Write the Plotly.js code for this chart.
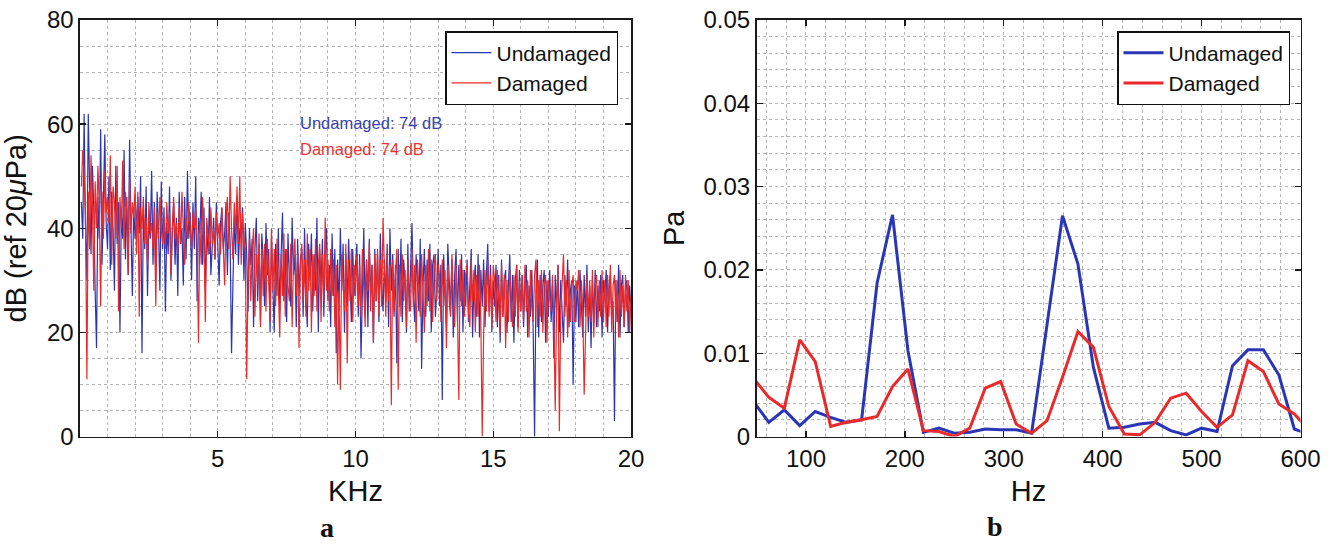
<!DOCTYPE html>
<html>
<head>
<meta charset="utf-8">
<script src="https://cdn.plot.ly/plotly-3.0.1.min.js"></script>
<style>html,body{margin:0;padding:0;background:#fff;}#chart{width:1338px;height:544px;}</style>
</head>
<body>
<div id="chart"></div>
<script>
// ---- Panel a: spectrum in dB (ref 20 uPa), frequency in kHz (bins start 0.05 kHz, step 0.05 kHz)
const spectrumStartKHz = 0.05;
const spectrumStepKHz = 0.05;
const undamagedDb = [
45,38,62,40,30,62,48,35,52,44,28,17,46,38,59,33,46,58,41,36,
50,32,47,40,28,52,37,45,20,43,38,55,34,46,31,57,40,27,44,38,
42,46,39,50,16,43,36,48,27,42,38,51,33,45,30,47,40,28,49,36,
44,24,41,35,48,30,39,45,33,42,27,47,37,40,29,46,34,51,38,43,
30,45,36,50,26,42,39,47,33,44,28,40,35,46,31,38,42,34,45,37,
29,41,44,36,39,45,31,43,37,16,27,42,35,46,33,40,38,44,30,41,
35,24,40,33,38,21,36,42,26,37,22,39,34,25,41,31,36,20,38,28,
20,37,27,40,24,35,43,26,36,22,39,30,25,42,31,35,21,38,27,34,
36,23,40,27,21,37,30,39,24,35,28,42,20,36,29,38,23,34,40,26,
33,21,39,27,36,16,34,24,40,28,37,20,35,25,38,30,22,36,27,33,
37,23,35,15,30,40,24,34,21,38,27,33,18,36,26,35,22,39,29,24,
34,26,37,21,40,28,35,23,33,14,36,25,38,22,34,29,20,37,24,35,
41,27,22,35,30,24,38,13,29,36,23,34,26,37,20,33,35,23,28,36,
25,33,7,35,27,21,37,29,24,34,19,31,36,22,33,26,35,20,32,25,
34,22,31,36,19,30,33,23,35,19,32,25,34,21,31,37,24,33,20,30,
25,33,21,31,18,34,23,30,32,20,29,35,22,31,18,30,33,21,32,24,
31,21,30,33,19,29,23,32,20,0,28,34,19,31,22,29,32,18,30,23,
32,22,29,15,31,24,33,20,30,23,18,31,25,34,21,28,30,10,29,22,
30,21,32,25,19,31,23,33,20,29,17,30,22,32,21,29,24,31,19,30,
27,32,20,29,31,23,26,3,30,22,33,19,29,31,21,28,30,20,29,24
];
const damagedDb = [
48,55,50,42,11,47,36,54,45,28,49,40,52,44,25,47,38,51,43,46,
41,54,33,48,45,38,52,24,46,40,53,36,47,43,31,50,39,45,42,48,
35,47,23,44,40,46,37,42,33,45,39,41,36,44,25,43,38,46,40,37,
42,36,45,39,43,31,40,46,38,41,35,44,37,47,40,33,42,38,45,39,
36,43,40,44,37,18,41,33,46,38,22,42,39,35,44,37,40,34,43,38,
41,35,44,38,29,42,46,36,50,40,34,45,39,48,37,50,33,43,38,36,
11,30,38,26,36,40,23,35,29,39,21,36,27,37,24,38,30,22,40,28,
36,25,38,29,19,35,27,39,23,36,29,26,37,21,34,38,27,35,17,33,
37,26,34,23,39,28,36,20,35,27,38,24,33,37,22,35,26,42,28,34,
24,36,27,34,21,33,10,28,9,35,29,24,37,14,34,26,36,22,33,27,
35,25,33,23,36,27,21,34,28,37,24,33,18,35,26,36,23,34,25,42,
32,23,35,26,33,6,34,24,31,36,9,33,23,35,26,32,21,34,27,24,
36,25,33,18,34,27,23,35,28,20,33,25,36,24,34,22,32,35,26,33,
31,22,34,25,32,17,33,26,23,35,27,21,33,24,7,34,25,32,23,31,
33,24,21,34,26,32,20,31,23,33,22,0,19,32,24,34,23,31,21,33,
30,22,32,25,20,33,23,31,17,30,22,32,25,21,31,23,33,20,30,24,
31,22,33,24,30,19,32,25,22,31,34,21,30,23,32,20,29,31,18,30,
27,24,31,22,5,26,33,1,24,31,35,23,30,19,32,22,29,31,22,30,
28,32,21,30,24,8,20,31,23,30,22,32,19,29,31,21,30,23,32,22,
30,21,31,23,33,20,29,31,22,30,19,32,23,29,21,31,24,30,20,27
];

// ---- Panel b: low-frequency amplitude in Pa (bins start 46.875 Hz, step 15.625 Hz)
const lowStartHz = 46.875;
const lowStepHz = 15.625;
const undamagedPa = [0.0042,0.0017,0.0032,0.0013,0.003,0.0023,0.0017,0.002,0.0184,0.0266,0.0103,0.0005,0.001,0.0004,0.0005,0.0009,0.0008,0.0008,0.0004,0.0135,0.0265,0.0207,0.0083,0.001,0.0011,0.0015,0.0017,0.0007,0.0002,0.001,0.0006,0.0085,0.0104,0.0104,0.0074,0.0009,0.0002];
const damagedPa = [0.007,0.0047,0.0034,0.0116,0.009,0.0012,0.0017,0.002,0.0024,0.006,0.0081,0.0007,0.0006,0.0,0.001,0.0058,0.0066,0.0015,0.0004,0.0019,0.0071,0.0126,0.0107,0.0036,0.0003,0.0002,0.0017,0.0046,0.0052,0.003,0.0011,0.0026,0.0091,0.0078,0.0039,0.0027,0.0007];

const seriesNames = ['Undamaged', 'Damaged'];
const overallLevels = ['Undamaged: 74 dB', 'Damaged: 74 dB'];
const xTicksA = [5, 10, 15, 20];

const BLUE = '#2b36b4';
const RED = '#ea2a2a';
const FONT = 'Liberation Sans, Arial, Helvetica, sans-serif';
const GRID = '#b4b4b4';

const W = 1338, H = 544;
const px = v => v / W;
const py = v => 1 - v / H;

const gridCommon = {
  showgrid: true, gridcolor: GRID, griddash: 'dot', gridwidth: 1,
  zeroline: false, showline: true, linecolor: '#1a1a1a', linewidth: 1.6,
  mirror: 'ticks', ticks: 'inside', ticklen: 6, tickwidth: 1.4, tickcolor: '#1a1a1a',
  tickfont: {family: FONT, size: 24, color: '#111'}
};
const minorGrid = d => ({dtick: d, tick0: 0, showgrid: true, gridcolor: GRID, griddash: 'dot', gridwidth: 1, ticks: ''});

const traces = [
  {type: 'scatter', mode: 'lines', name: seriesNames[0], x0: spectrumStartKHz, dx: spectrumStepKHz, y: undamagedDb,
   line: {color: BLUE, width: 1.2}, xaxis: 'x', yaxis: 'y', legend: 'legend'},
  {type: 'scatter', mode: 'lines', name: seriesNames[1], x0: spectrumStartKHz, dx: spectrumStepKHz, y: damagedDb,
   line: {color: RED, width: 1.2}, xaxis: 'x', yaxis: 'y', legend: 'legend'},
  {type: 'scatter', mode: 'lines', name: seriesNames[0], x0: lowStartHz, dx: lowStepHz, y: undamagedPa,
   line: {color: BLUE, width: 3}, xaxis: 'x2', yaxis: 'y2', legend: 'legend2'},
  {type: 'scatter', mode: 'lines', name: seriesNames[1], x0: lowStartHz, dx: lowStepHz, y: damagedPa,
   line: {color: RED, width: 3}, xaxis: 'x2', yaxis: 'y2', legend: 'legend2'}
];

const yDom = [py(436.5), py(20)];
const legendBase = {
  xanchor: 'right', yanchor: 'top', bgcolor: '#fff', bordercolor: '#111', borderwidth: 1.5,
  font: {family: FONT, size: 21, color: '#111'}, tracegroupgap: 0, itemwidth: 40
};
const layout = {
  width: W, height: H,
  margin: {l: 0, r: 0, t: 0, b: 0},
  paper_bgcolor: '#fff', plot_bgcolor: '#fff',
  font: {family: FONT, color: '#111'},
  showlegend: true,
  xaxis: Object.assign({}, gridCommon, {
    domain: [px(80), px(631)], range: [0, 20], tickmode: 'array', tickvals: xTicksA,
    minor: minorGrid(1),
    title: {text: 'KHz', font: {family: FONT, size: 29, color: '#111'}, standoff: 10},
    anchor: 'y'
  }),
  yaxis: Object.assign({}, gridCommon, {
    domain: yDom, range: [0, 80], dtick: 20,
    minor: minorGrid(5),
    title: {text: 'dB (ref 20<i>μ</i>Pa)', font: {family: FONT, size: 29, color: '#111'}, standoff: 12},
    anchor: 'x'
  }),
  xaxis2: Object.assign({}, gridCommon, {
    domain: [px(756.5), px(1300.5)], range: [50, 600], dtick: 100, tick0: 0,
    minor: minorGrid(20),
    title: {text: 'Hz', font: {family: FONT, size: 29, color: '#111'}, standoff: 10},
    anchor: 'y2'
  }),
  yaxis2: Object.assign({}, gridCommon, {
    domain: yDom, range: [0, 0.05], dtick: 0.01,
    minor: minorGrid(0.002),
    title: {text: 'Pa', font: {family: FONT, size: 29, color: '#111'}, standoff: 10},
    anchor: 'x2'
  }),
  legend: Object.assign({}, legendBase, {x: px(618), y: py(31)}),
  legend2: Object.assign({}, legendBase, {x: px(1290), y: py(31)}),
  annotations: [
    {xref: 'x', yref: 'y', x: 7.9, y: 60.3, text: overallLevels[0], showarrow: false, xanchor: 'left', yanchor: 'middle',
     font: {family: FONT, size: 16.5, color: '#3a3fae'}},
    {xref: 'x', yref: 'y', x: 7.9, y: 55.2, text: overallLevels[1], showarrow: false, xanchor: 'left', yanchor: 'middle',
     font: {family: FONT, size: 16.5, color: '#ea3434'}},
    {xref: 'paper', yref: 'paper', x: px(327), y: py(527), text: '<b>a</b>', showarrow: false, xanchor: 'center', yanchor: 'middle',
     font: {family: 'Liberation Serif, Times New Roman, serif', size: 28, color: '#111'}},
    {xref: 'paper', yref: 'paper', x: px(995), y: py(526), text: '<b>b</b>', showarrow: false, xanchor: 'center', yanchor: 'middle',
     font: {family: 'Liberation Serif, Times New Roman, serif', size: 28, color: '#111'}}
  ]
};

Plotly.newPlot('chart', traces, layout, {staticPlot: true, displayModeBar: false});
</script>
</body>
</html>
